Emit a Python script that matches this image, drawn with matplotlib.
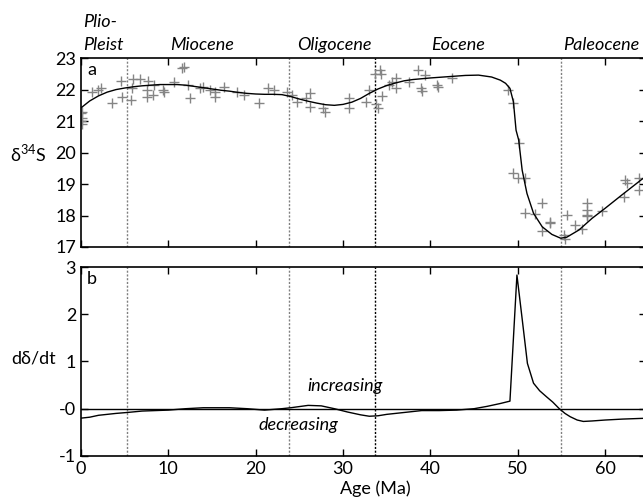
#!/usr/bin/env python3

import numpy as np
import matplotlib
matplotlib.use('Agg')
import matplotlib.pyplot as plt

plt.rcParams['font.family'] = ['Lato', 'DejaVu Sans']
plt.rcParams['mathtext.fontset'] = 'custom'
plt.rcParams['mathtext.rm'] = 'Lato'

# sulfur isotope samples (age Ma, d34S)
age_pts = [0.05, 0.1, 0.0, 0.15, 0.1, 1.2, 2.0, 2.3, 3.5, 4.6, 4.7, 5.7, 5.8, 6.0, 6.7,
           7.5, 7.7, 7.5, 8.25, 8.4, 9.4, 9.5, 10.7, 11.6, 11.8, 12.3, 12.5, 13.6, 14.0,
           14.8, 15.3, 15.35, 16.4, 17.8, 18.7, 20.4, 21.4, 22.1, 23.6, 24.1, 24.7, 25.7,
           26.2, 26.2, 27.75, 27.9, 30.7, 30.7, 32.6, 33.0, 33.8, 34.05, 33.7, 34.25, 34.3,
           34.4, 35.2, 35.6, 36.0, 36.0, 37.5, 38.6, 39.4, 38.95, 39.0, 40.7, 40.9, 42.5,
           48.9, 49.5, 50.1, 49.5, 50.0, 50.8, 50.8, 52.0, 52.8, 52.8, 53.7, 53.7, 55.25,
           55.4, 55.6, 56.5, 57.3, 57.9, 57.9, 57.9, 57.9, 59.6, 62.1, 62.3, 62.5, 63.85,
           63.85]
d34s_pts = [21.25, 21.1, 21.0, 20.9, 21.3, 21.91, 22.0, 22.05, 21.58, 22.27, 21.77, 21.67,
            22.04, 22.35, 22.33, 21.98, 22.27, 21.77, 21.83, 22.16, 21.98, 21.93, 22.25,
            22.69, 22.72, 22.14, 21.74, 22.04, 22.09, 22.0, 21.93, 21.77, 22.09, 21.93,
            21.83, 21.56, 22.04, 22.0, 21.93, 21.83, 21.61, 21.74, 21.88, 21.45, 21.4,
            21.28, 21.74, 21.4, 21.61, 21.98, 21.53, 21.4, 22.48, 22.62, 22.48, 21.8,
            22.16, 22.23, 22.38, 22.04, 22.25, 22.62, 22.46, 22.04, 21.95, 22.16, 22.09,
            22.36, 21.98, 21.56, 20.31, 19.34, 19.18, 19.18, 18.09, 18.05, 18.41, 17.52,
            17.75, 17.8, 17.38, 17.24, 18.02, 17.7, 17.56, 18.39, 18.17, 17.98, 18.02,
            18.15, 18.6, 19.13, 19.04, 19.18, 18.81]

# smoothed curve
age_fit = [0, 1, 2, 3, 4, 5, 6, 7, 8, 9, 10, 11, 12, 13, 14, 15, 16, 17, 18, 19, 20, 21,
           22, 23, 24, 25, 26, 27, 28, 29, 30, 31, 32, 33, 34, 35, 36, 37, 38, 40, 42,
           44, 45.5, 47, 48, 48.6, 49.1, 49.5, 49.8, 50.1, 50.5, 51.05, 51.8, 52.8, 53.9,
           54.9, 55.6, 57.0, 58.5, 60.0, 61.9, 64.2, 65.5]
d34s_fit = [21.42, 21.64, 21.80, 21.92, 22.0, 22.05, 22.09, 22.12, 22.14, 22.16, 22.16,
            22.16, 22.14, 22.10, 22.06, 22.02, 21.98, 21.95, 21.91, 21.88, 21.86, 21.85,
            21.85, 21.84, 21.78, 21.70, 21.63, 21.57, 21.52, 21.50, 21.53, 21.60, 21.72,
            21.88, 22.02, 22.13, 22.21, 22.28, 22.32, 22.37, 22.41, 22.45, 22.46, 22.40,
            22.30, 22.2, 22.04, 21.61, 20.71, 20.4, 19.44, 18.7, 18.07, 17.64, 17.4,
            17.28, 17.31, 17.54, 17.91, 18.23, 18.65, 19.15, 19.42]

# rate of change
age_rate = [0, 1, 2, 3, 4, 5.3, 7, 10, 12, 14, 17, 19, 21, 23, 24, 26, 27.5, 29, 30.5,
            32, 33, 34, 35, 37, 39, 41, 43, 45, 46.5, 48, 49.1, 49.9, 50.5, 51.1, 51.8,
            52.5, 53.3, 54, 54.75, 55.4, 56, 56.8, 57.5, 58.5, 60, 62, 65]
rate = [-0.20, -0.18, -0.14, -0.12, -0.10, -0.08, -0.05, -0.03, 0.0, 0.02, 0.02, 0.0,
        -0.03, 0.0, 0.02, 0.07, 0.06, 0.0, -0.07, -0.13, -0.16, -0.15, -0.12, -0.08,
        -0.04, -0.04, -0.03, 0.0, 0.05, 0.11, 0.16, 2.83, 1.9, 0.96, 0.54, 0.38, 0.25,
        0.14, 0.0, -0.1, -0.17, -0.24, -0.27, -0.26, -0.24, -0.22, -0.2]

bounds = [5.3, 23.8, 33.7, 55.0]
bound_colors = ['grey', 'grey', 'black', 'grey']
epochs = ['Miocene', 'Oligocene', 'Eocene']
epoch_x = [13.9, 29.0, 43.2]

fig = plt.figure(figsize=(6.43, 5.01), dpi=100)
left, width = 0.126, 0.879
ax1 = fig.add_axes([left, 0.507, width, 0.377])
ax2 = fig.add_axes([left, 0.090, width, 0.377])

fs = 13
for ax in (ax1, ax2):
  for b, c in zip(bounds, bound_colors):
    ax.axvline(b, color=c, linestyle=(0, (1.5, 1.2)), linewidth=1.0)
  ax.set_xlim(0, 64.7)
  ax.set_xticks(np.arange(0, 70, 10))
  ax.tick_params(direction='in', length=5, width=1, top=True, right=True, labelsize=fs)
  for s in ax.spines.values():
    s.set_linewidth(1.2)

ax1.plot(age_pts, d34s_pts, linestyle='none', marker='+', color='#858585',
         markersize=7, markeredgewidth=1.0)
ax1.plot(age_fit, d34s_fit, color='black', linewidth=1.0)
ax1.set_ylim(17, 23)
ax1.set_yticks(np.arange(17, 24, 1))
ax1.tick_params(labelbottom=False)
ax1.text(0.7, 22.62, 'a', fontsize=fs, va='center', ha='left')

ax2.axhline(0, color='black', linewidth=1.0)
ax2.plot(age_rate, rate, color='black', linewidth=1.0)
ax2.set_ylim(-1, 3)
ax2.set_yticks([-1, 0, 1, 2, 3])
ax2.set_yticklabels(['-1', '-0', '1', '2', '3'])
ax2.text(0.7, 2.75, 'b', fontsize=fs, va='center', ha='left')
ax2.text(30.2, 0.48, 'increasing', fontsize=fs, style='italic', ha='center', va='center')
ax2.text(24.9, -0.35, 'decreasing', fontsize=fs, style='italic', ha='center', va='center')

trans = ax1.get_xaxis_transform()
ax1.text(0.2, 1.19, 'Plio-', fontsize=fs, style='italic', ha='left', va='center', transform=trans)
ax1.text(0.2, 1.07, 'Pleist', fontsize=fs, style='italic', ha='left', va='center', transform=trans)
for name, x in zip(epochs, epoch_x):
  ax1.text(x, 1.07, name, fontsize=fs, style='italic', ha='center', va='center', transform=trans)
ax1.text(55.2, 1.07, 'Paleocene', fontsize=fs, style='italic', ha='left', va='center',
         transform=trans, clip_on=False)

fig.text(0.043, 1 - 153 / 501, r'δ$^{\mathrm{34}}$S', fontsize=fs, ha='center', va='center')
fig.text(0.052, 1 - 358 / 501, 'dδ/dt', fontsize=fs, ha='center', va='center')
fig.text(375 / 643, 1 - 489 / 501, 'Age (Ma)', fontsize=fs, ha='center', va='center')

plt.savefig('out.png', dpi=100)
